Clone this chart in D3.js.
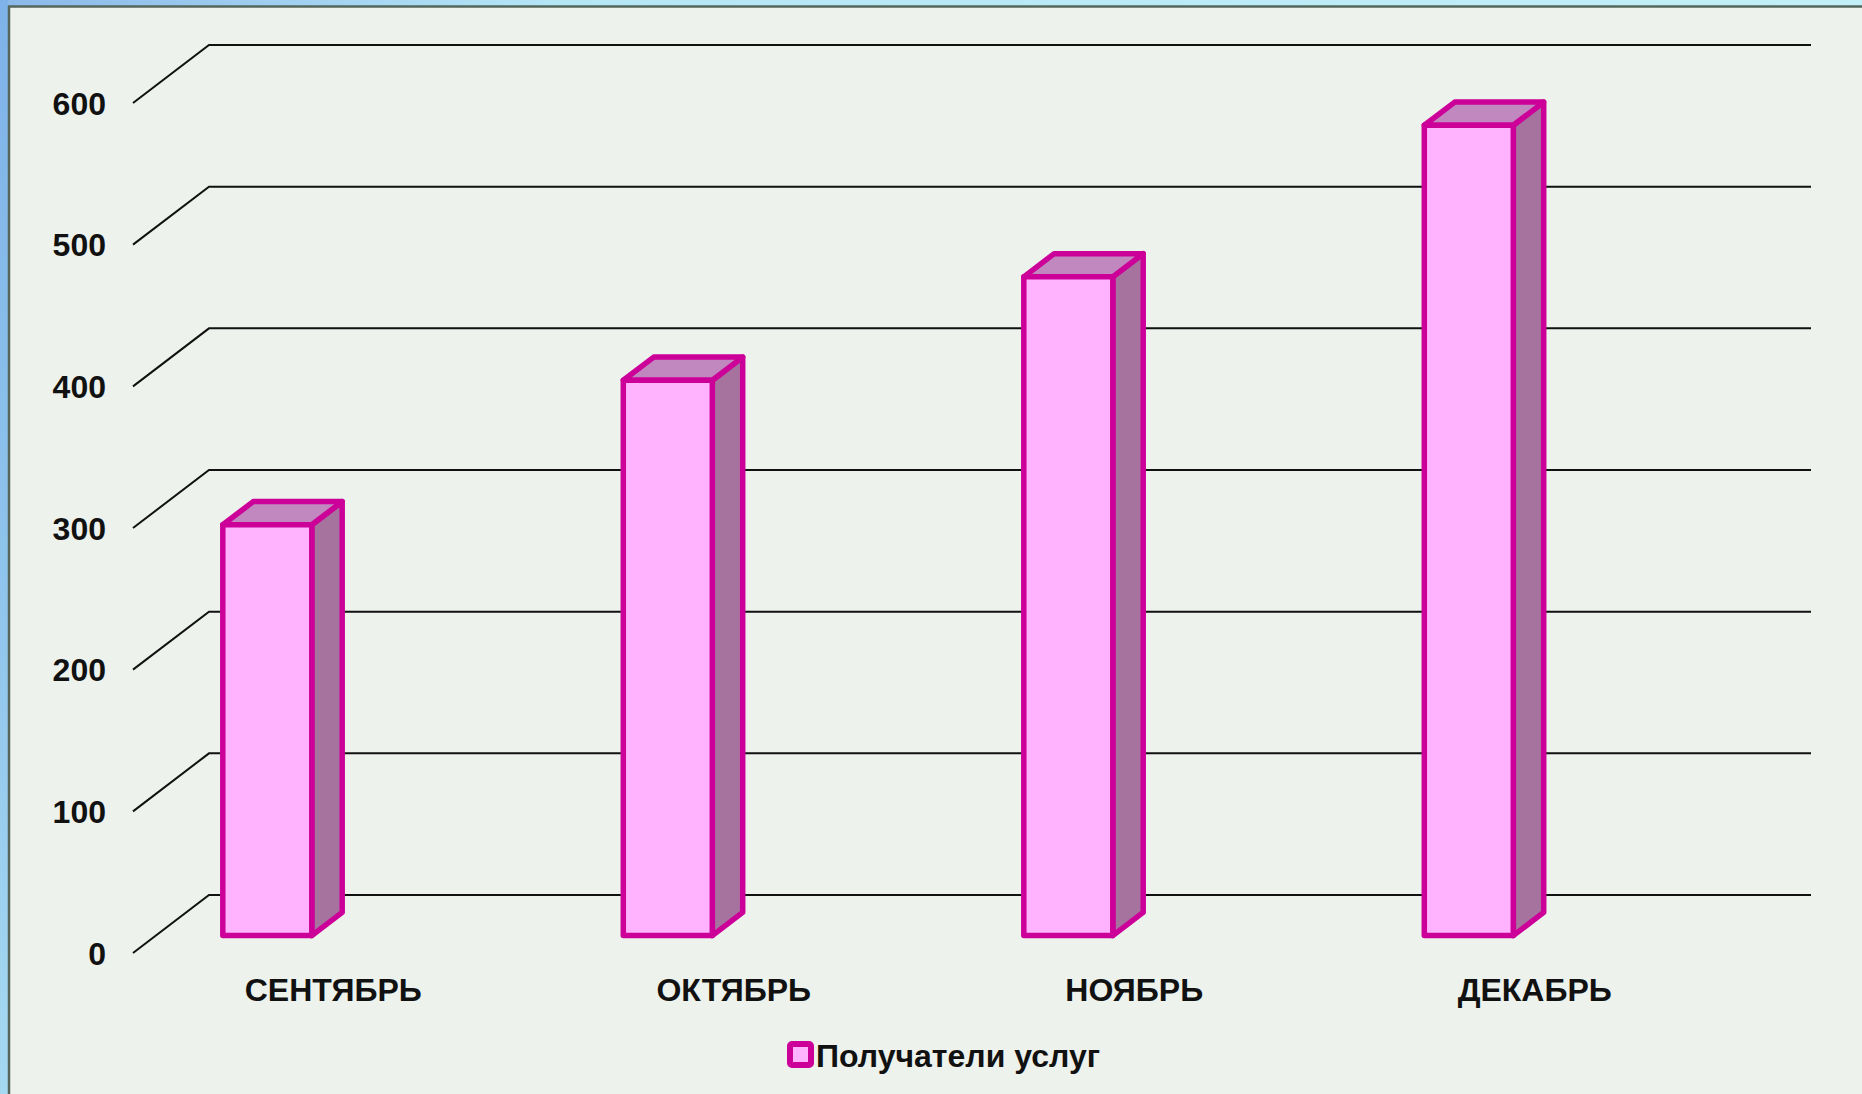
<!DOCTYPE html>
<html><head><meta charset="utf-8">
<script src="https://cdn.jsdelivr.net/npm/d3@7"></script>
<style>html,body{margin:0;padding:0;overflow:hidden;background:#EDF2EC}</style>
</head><body>
<script>
const categories = ["СЕНТЯБРЬ", "ОКТЯБРЬ", "НОЯБРЬ", "ДЕКАБРЬ"];
const seriesName = "Получатели услуг";
const values = [290, 392, 465, 572];
const tickValues = [0, 100, 200, 300, 400, 500, 600];

const W = 1862, H = 1094;
const svg = d3.select("body").append("svg").attr("width", W).attr("height", H);

// background & frame
const defs = svg.append("defs");
const lg = defs.append("linearGradient").attr("id","lframe").attr("x1",0).attr("y1",0).attr("x2",0).attr("y2",1);
lg.append("stop").attr("offset",0).attr("stop-color","#7FB2E8");
lg.append("stop").attr("offset",0.5).attr("stop-color","#8EC3EC");
lg.append("stop").attr("offset",1).attr("stop-color","#A5D9F2");
const tg = defs.append("linearGradient").attr("id","tframe").attr("x1",0).attr("y1",0).attr("x2",1).attr("y2",0);
tg.append("stop").attr("offset",0).attr("stop-color","#8AB8EA");
tg.append("stop").attr("offset",0.3).attr("stop-color","#B5E6F6");
tg.append("stop").attr("offset",1).attr("stop-color","#C2F0F8");
svg.append("rect").attr("width",W).attr("height",H).attr("fill","#EDF2EC");
svg.append("rect").attr("x",0).attr("y",0).attr("width",W).attr("height",6).attr("fill","url(#tframe)");
svg.append("rect").attr("x",0).attr("y",0).attr("width",8).attr("height",H).attr("fill","url(#lframe)");
svg.append("line").attr("x1",8).attr("x2",W).attr("y1",6.5).attr("y2",6.5).attr("stroke","#55675C").attr("stroke-width",2.5);
svg.append("line").attr("x1",9).attr("x2",9).attr("y1",6).attr("y2",H).attr("stroke","#55675C").attr("stroke-width",2.5);

// 3D geometry
const DX = 76, DY = 58;           // depth offset of wall
const y = d3.scaleLinear().domain([0, 600]).range([953, 103]); // front plane
const x = d3.scaleBand().domain(categories).range([133, 1735]).paddingInner(0).paddingOuter(0);
const proj = (xf, yf, t) => [xf + t * DX, yf - t * DY];

// gridlines
const g = svg.append("g");
tickValues.forEach(v => {
  const yf = y(v);
  const [bx, by] = proj(133, yf, 1);
  g.append("path")
    .attr("d", `M133,${yf}L${bx},${by}L${1735 + DX},${by}`)
    .attr("fill","none").attr("stroke","#111").attr("stroke-width",2);
});

const FONT = "'Liberation Sans', Arial, sans-serif";
const FS = 32;

// tick labels
svg.append("g").selectAll("text").data(tickValues).join("text")
  .attr("x", 106).attr("y", d => y(d)).attr("dy","0.36em")
  .attr("text-anchor","end")
  .attr("font-family",FONT)
  .attr("font-weight","bold").attr("font-size",FS).attr("fill","#111")
  .text(d => d);

// bars
const t0 = 0.30, t1 = 0.70;
const barOff = 67, barW = 89;
const stroke = "#CC0099";
const bars = svg.append("g").selectAll("g").data(categories.map((c,i)=>({c, v: values[i]}))).join("g");
bars.each(function(d) {
  const gg = d3.select(this);
  const xl = x(d.c) + barOff, xr = xl + barW;
  const yt = y(d.v), yb = y(0);
  const A = proj(xl, yt, t0), B = proj(xr, yt, t0), C = proj(xr, yb, t0), D = proj(xl, yb, t0);
  const A2 = proj(xl, yt, t1), B2 = proj(xr, yt, t1), C2 = proj(xr, yb, t1);
  const common = s => s.attr("stroke", stroke).attr("stroke-width", 5.5).attr("stroke-linejoin","round");
  common(gg.append("path").attr("d", `M${B}L${B2}L${C2}L${C}Z`).attr("fill", "#A6739F"));
  common(gg.append("path").attr("d", `M${A}L${A2}L${B2}L${B}Z`).attr("fill", "#C088BE"));
  common(gg.append("path").attr("d", `M${A}L${B}L${C}L${D}Z`).attr("fill", "#FFB3FF"));
});

// category labels
svg.append("g").selectAll("text").data(categories).join("text")
  .attr("x", d => x(d) + x.bandwidth()/2).attr("y", 989).attr("dy","0.36em")
  .attr("text-anchor","middle")
  .attr("font-family",FONT)
  .attr("font-weight","bold").attr("font-size",FS).attr("fill","#111")
  .text(d => d);

// legend
const leg = svg.append("g");
leg.append("rect").attr("x", 790).attr("y", 1044).attr("width", 21).attr("height", 21).attr("rx", 2)
  .attr("fill", "#FFB3FF").attr("stroke", stroke).attr("stroke-width", 6);
leg.append("text").attr("x", 816).attr("y", 1055).attr("dy","0.36em")
  .attr("font-family",FONT)
  .attr("font-weight","bold").attr("font-size",FS).attr("fill","#111")
  .text(seriesName);
</script>
</body></html>
